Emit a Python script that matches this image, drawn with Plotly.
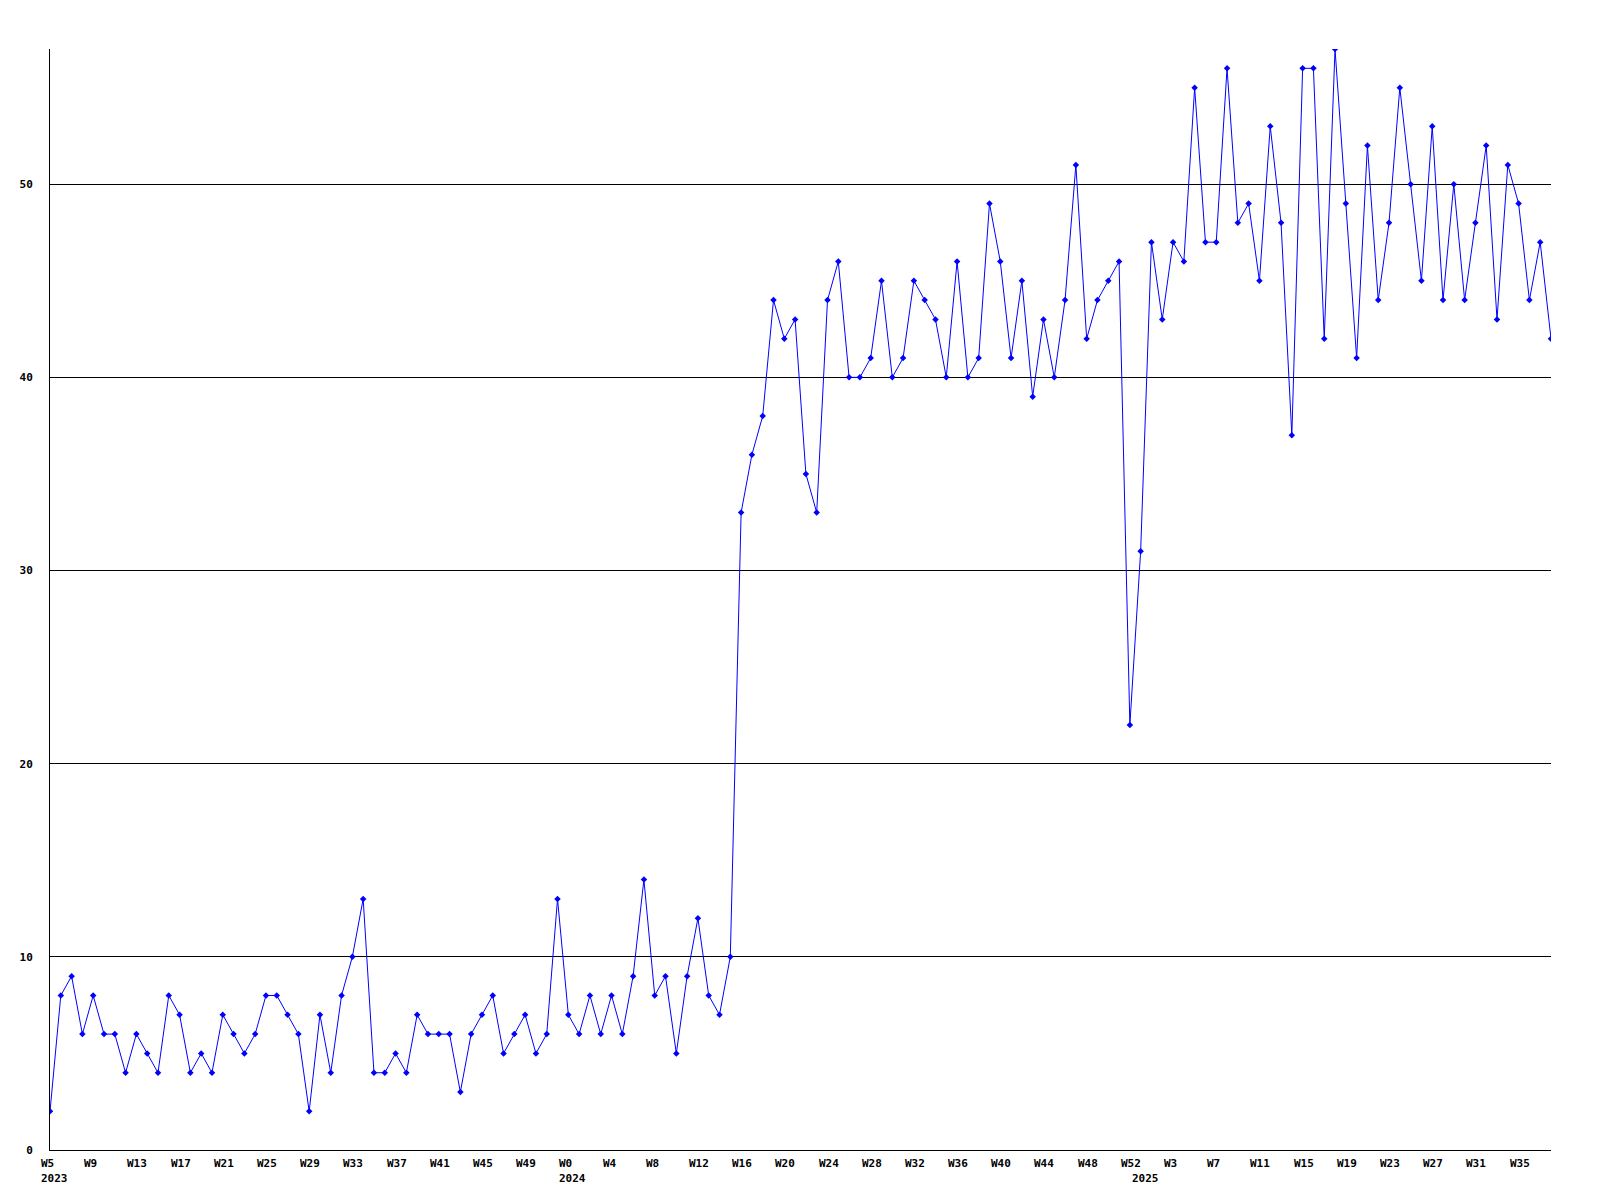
import plotly.graph_objects as go

# Week labels: 2023 W5..W52, 2024 W0..W52, 2025 W0..W39
years = [2023, 2024, 2025]
first_week = [5, 0, 0]
last_week = [52, 52, 39]

week_labels = []
week_years = []
for yr, a, b in zip(years, first_week, last_week):
    for w in range(a, b + 1):
        week_labels.append(f"W{w}")
        week_years.append(yr)

values = [
    2, 8, 9, 6, 8, 6, 6, 4, 6, 5, 4, 8, 7, 4, 5, 4, 7, 6, 5, 6,
    8, 8, 7, 6, 2, 7, 4, 8, 10, 13, 4, 4, 5, 4, 7, 6, 6, 6, 3, 6,
    7, 8, 5, 6, 7, 5, 6, 13, 7, 6, 8, 6, 8, 6, 9, 14, 8, 9, 5, 9,
    12, 8, 7, 10, 33, 36, 38, 44, 42, 43, 35, 33, 44, 46, 40, 40, 41, 45, 40, 41,
    45, 44, 43, 40, 46, 40, 41, 49, 46, 41, 45, 39, 43, 40, 44, 51, 42, 44, 45, 46,
    22, 31, 47, 43, 47, 46, 55, 47, 47, 56, 48, 49, 45, 53, 48, 37, 56, 56, 42, 57,
    49, 41, 52, 44, 48, 55, 50, 45, 53, 44, 50, 44, 48, 52, 43, 51, 49, 44, 47, 42,
]

n = len(values)
week_labels = week_labels[:n]
week_years = week_years[:n]
xs = list(range(n))

y_ticks = [0, 10, 20, 30, 40, 50]

FONT = "DejaVu Sans Mono"

fig = go.Figure()
fig.add_trace(go.Scatter(
    x=xs, y=values, mode="lines+markers",
    line=dict(color="#0000ff", width=1),
    marker=dict(symbol="diamond", size=5, color="#0000ff"),
    cliponaxis=True, showlegend=False, hoverinfo="x+y",
))

annotations = []
for i in range(0, n, 4):
    annotations.append(dict(
        x=xs[i], y=0, xref="x", yref="paper", text=week_labels[i],
        showarrow=False, xanchor="left", yanchor="top", xshift=-11, yshift=-5,
        font=dict(family=FONT, size=11, color="black", weight="bold"),
    ))
prev = None
for i in range(n):
    if week_years[i] != prev:
        annotations.append(dict(
            x=xs[i], y=0, xref="x", yref="paper", text=str(week_years[i]),
            showarrow=False, xanchor="left", yanchor="top", xshift=-11, yshift=-20,
            font=dict(family=FONT, size=11, color="black", weight="bold"),
        ))
        prev = week_years[i]

fig.update_layout(
    width=1600, height=1200, autosize=False,
    margin=dict(l=42, r=57, t=41, b=58, pad=0),
    paper_bgcolor="white", plot_bgcolor="white",
    annotations=annotations,
    xaxis=dict(
        range=[0, n - 1], showgrid=False, zeroline=False,
        showline=True, linecolor="black", linewidth=1,
        showticklabels=False, ticks="",
    ),
    yaxis=dict(
        range=[0, 57], tickvals=y_ticks, ticktext=[str(v) for v in y_ticks],
        showgrid=True, gridcolor="black", gridwidth=1, zeroline=False,
        showline=True, linecolor="black", linewidth=1, ticks="",
        ticklabelstandoff=14,
        tickfont=dict(family=FONT, size=11, color="black", weight="bold"),
    ),
)

fig.write_html("out.html")
